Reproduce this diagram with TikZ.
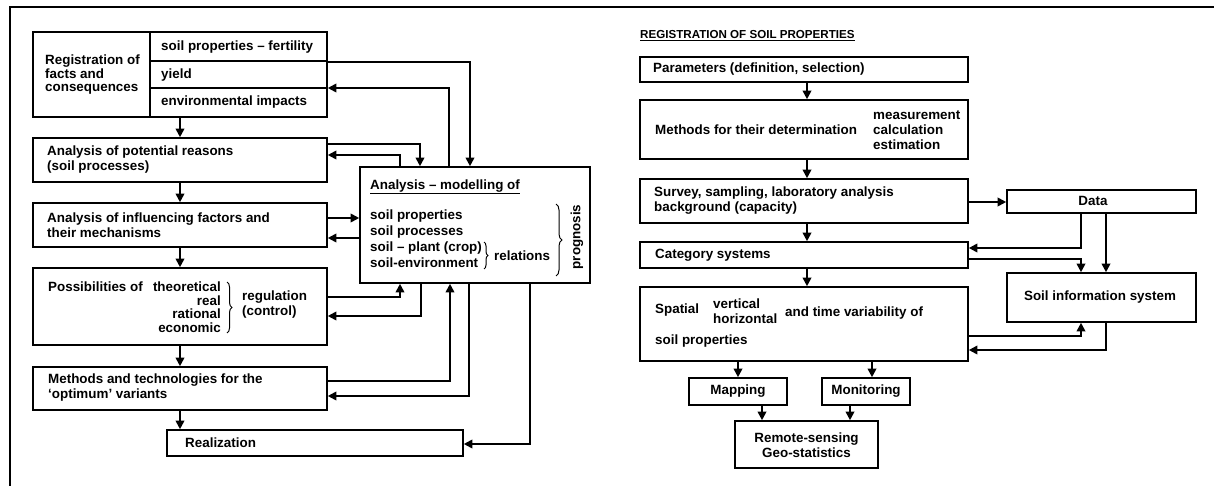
\documentclass[tikz,border=0pt]{standalone}
\usepackage{fontspec}
\setmainfont{Liberation Sans}
\usetikzlibrary{arrows.meta,decorations.pathreplacing}
\begin{document}
\begin{tikzpicture}[x=1pt,y=-1pt,
  box/.style={draw, line width=1.6pt, rectangle, inner sep=0pt},
  txt/.style={inner sep=0pt, anchor=west, align=left, font=\fontsize{13.4}{15}\selectfont\bfseries},
  ctr/.style={inner sep=0pt, align=center, font=\fontsize{13.4}{15}\selectfont\bfseries},
  conn/.style={line width=1.8pt, -{Triangle[length=8.5pt,width=8.5pt]}},
  plain/.style={line width=1.6pt},
  brc/.style={decorate, line width=1pt, decoration={brace, amplitude=#1}}
]
\useasboundingbox (0,0) rectangle (1214,486);
% frame
\draw[plain] (10,486) -- (10,7) -- (1214,7);

% ---------- left part ----------
\node[box, minimum width=294pt, minimum height=85pt] (reg) at (180,74.5) {};
\draw[plain] (reg.north -| 150,0) -- (reg.south -| 150,0);
\draw[plain] (150,61) -- (reg.east |- 0,61);
\draw[plain] (150,88) -- (reg.east |- 0,88);
\node[txt] (regt) at (45,75) {Registration of\\[-1.5pt]facts and\\[-1.5pt]consequences};
\node[txt] (r1) at (161,47) {soil properties – fertility};
\node[txt] (r2) at (161,75) {yield};
\node[txt] (r3) at (161,102) {environmental impacts};

\node[box, minimum width=294pt, minimum height=44pt] (pot) at (180,160) {};
\node[txt] (pott) at (47,160) {Analysis of potential reasons\\(soil processes)};

\node[box, minimum width=294pt, minimum height=44pt] (inf) at (180,225) {};
\node[txt] (inft) at (47,225) {Analysis of influencing factors and\\their mechanisms};

\node[box, minimum width=294pt, minimum height=77pt] (pos) at (180,306.5) {};
\node[txt] (post) at (48,287) {Possibilities of};
\node[txt, anchor=east] (th) at (221,287) {theoretical};
\node[txt, anchor=east] (re) at (221,300.5) {real};
\node[txt, anchor=east] (ra) at (221,314) {rational};
\node[txt, anchor=east] (ec) at (221,327.5) {economic};
\draw[brc=5pt] (227,282) -- (227,333);
\node[txt] (regu) at (242,305) {regulation\\(control)};

\node[box, minimum width=294pt, minimum height=43pt] (met) at (180,388.5) {};
\node[txt] (mett) at (48,388) {Methods and technologies for the\\‘optimum’ variants};

\node[box, minimum width=296pt, minimum height=26pt] (real) at (315,443) {};
\node[txt] (realt) at (185,443) {Realization};

% analysis - modelling box
\node[box, minimum width=230pt, minimum height=116pt] (ana) at (475,225) {};
\node[txt] (anat) at (370,187) {\underline{Analysis – modelling of}};
\node[txt, font=\fontsize{13.4}{16}\selectfont\bfseries] (anal) at (370,239) {soil properties\\soil processes\\soil – plant (crop)\\soil-environment};
\draw[brc=4pt] (484,242) -- (484,269);
\node[txt] (relt) at (494,256) {relations};
\draw[brc=6pt] (556,204) -- (556,276);
\node[ctr, rotate=90] (prog) at (577,237) {prognosis};

% vertical flow left
\draw[conn] (reg.south) -- (pot.north);
\draw[conn] (pot.south) -- (inf.north);
\draw[conn] (inf.south) -- (pos.north);
\draw[conn] (pos.south) -- (met.north);
\draw[conn] (met.south) -- (met.south |- real.north);

% connectors to / from analysis box
\draw[conn] (reg.east |- 0,62) -| (ana.north -| 470,0);
\draw[conn] (ana.north -| 449,0) |- (reg.east |- 0,88);
\draw[conn] (pot.east |- 0,144) -| (ana.north -| 420,0);
\draw[conn] (ana.north -| 400,0) |- (pot.east |- 0,155);
\draw[conn] (inf.east |- 0,218) -- (ana.west |- 0,218);
\draw[conn] (ana.west |- 0,238) -- (inf.east |- 0,238);
\draw[conn] (pos.east |- 0,297) -| (ana.south -| 400,0);
\draw[conn] (ana.south -| 421,0) |- (pos.east |- 0,316);
\draw[conn] (met.east |- 0,381) -| (ana.south -| 450,0);
\draw[conn] (ana.south -| 469,0) |- (met.east |- 0,396);
\draw[conn] (ana.south -| 530,0) |- (real.east |- 0,444);

% ---------- right part ----------
\node[txt, font=\fontsize{11.6}{13}\selectfont\bfseries] (title) at (640,36) {\underline{REGISTRATION OF SOIL PROPERTIES}};

\node[box, minimum width=328pt, minimum height=25pt] (par) at (804,69.5) {};
\node[txt] (part) at (653,69) {Parameters (definition, selection)};

\node[box, minimum width=328pt, minimum height=59pt] (meth) at (804,129.5) {};
\node[txt] (metht) at (655,130) {Methods for their determination};
\node[txt] (methr) at (873,130) {measurement\\calculation\\estimation};

\node[box, minimum width=328pt, minimum height=44pt] (sur) at (804,201) {};
\node[txt] (surt) at (654,201) {Survey, sampling, laboratory analysis\\background (capacity)};

\node[box, minimum width=328pt, minimum height=26pt] (cat) at (804,255) {};
\node[txt] (catt) at (655,255) {Category systems};

\node[box, minimum width=328pt, minimum height=74pt] (spa) at (804,324) {};
\node[txt] (spat) at (655,310) {Spatial};
\node[txt] (spav) at (713,311) {vertical\\horizontal};
\node[txt] (spaa) at (785,313) {and time variability of};
\node[txt] (spas) at (655,341) {soil properties};

\node[box, minimum width=189pt, minimum height=23pt] (data) at (1101.5,201.5) {};
\node[ctr] (datat) at (1093,201) {Data};

\node[box, minimum width=189pt, minimum height=49pt] (sis) at (1101.5,297.5) {};
\node[ctr] (sist) at (1100,297) {Soil information system};

\node[box, minimum width=98pt, minimum height=27pt] (map) at (738,391.5) {};
\node[ctr] (mapt) at (738,391) {Mapping};
\node[box, minimum width=88pt, minimum height=27pt] (mon) at (866,391.5) {};
\node[ctr] (mont) at (866,391) {Monitoring};
\node[box, minimum width=143pt, minimum height=47pt] (rem) at (806.5,444.5) {};
\node[ctr] (remt) at (806.5,445) {Remote-sensing\\Geo-statistics};

% vertical flow right
\draw[conn] (par.south -| 807,0) -- (meth.north -| 807,0);
\draw[conn] (meth.south -| 807,0) -- (sur.north -| 807,0);
\draw[conn] (sur.south -| 807,0) -- (cat.north -| 807,0);
\draw[conn] (cat.south -| 807,0) -- (spa.north -| 807,0);
\draw[conn] (spa.south -| 738,0) -- (map.north -| 738,0);
\draw[conn] (spa.south -| 872,0) -- (mon.north -| 872,0);
\draw[conn] (map.south -| 762,0) -- (rem.north -| 762,0);
\draw[conn] (mon.south -| 850,0) -- (rem.north -| 850,0);

% data / soil information system
\draw[conn] (sur.east |- 0,202) -- (data.west |- 0,202);
\draw[conn] (data.south -| 1081,0) |- (cat.east |- 0,248);
\draw[conn] (cat.east |- 0,259) -| (sis.north -| 1081,0);
\draw[conn] (data.south -| 1106,0) -- (sis.north -| 1106,0);
\draw[conn] (spa.east |- 0,336) -| (sis.south -| 1081,0);
\draw[conn] (sis.south -| 1106,0) |- (spa.east |- 0,350);
\end{tikzpicture}
\end{document}
